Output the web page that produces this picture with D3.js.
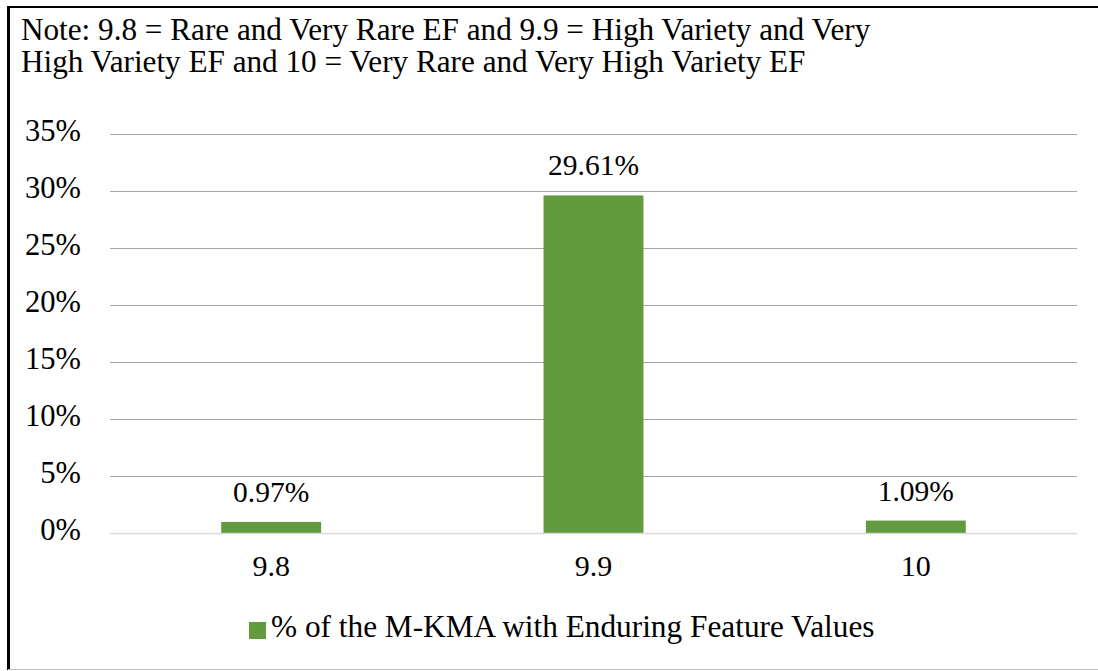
<!DOCTYPE html>
<html>
<head>
<meta charset="utf-8">
<script src="https://cdn.jsdelivr.net/npm/d3@7"></script>
<style>
  body { margin: 0; background: #fff; }
</style>
</head>
<body>
<script>
var categories = ["9.8", "9.9", "10"];
var values = [0.97, 29.61, 1.09];
var yTicks = [0, 5, 10, 15, 20, 25, 30, 35];
var noteLines = [
  "Note: 9.8 = Rare and Very Rare EF and 9.9 = High Variety and Very",
  "High Variety EF and 10 = Very Rare and Very High Variety EF"
];
var seriesName = "% of the M-KMA with Enduring Feature Values";

var W = 1098, H = 671;
var green = "#629b3e";
var font = "'Liberation Serif', Tinos, 'Times New Roman', 'DejaVu Serif', serif";

var svg = d3.select("body").append("svg")
    .attr("width", W)
    .attr("height", H)
    .attr("font-family", font);

// frame
svg.append("line").attr("x1", 8).attr("y1", 7).attr("x2", W).attr("y2", 7)
    .attr("stroke", "#000").attr("stroke-width", 2);
svg.append("line").attr("x1", 8.5).attr("y1", 6).attr("x2", 8.5).attr("y2", 670)
    .attr("stroke", "#000").attr("stroke-width", 3);
svg.append("line").attr("x1", 8).attr("y1", 669.5).attr("x2", W).attr("y2", 669.5)
    .attr("stroke", "#bfbfbf").attr("stroke-width", 1);

// note
svg.append("text").selectAll("tspan")
    .data(noteLines)
    .enter().append("tspan")
    .attr("x", 21)
    .attr("y", function(d, i){ return 40 + i * 32; })
    .attr("font-size", 31.2)
    .text(function(d){ return d; });

var x = d3.scaleBand()
    .domain(categories)
    .range([110, 1077])
    .paddingInner(0.69)
    .paddingOuter(0.345);

var y = d3.scaleLinear()
    .domain([0, 35])
    .range([533, 134]);

// gridlines
svg.selectAll("line.grid")
    .data(yTicks.filter(function(d){ return d > 0; }))
    .enter().append("line")
    .attr("class", "grid")
    .attr("x1", 110).attr("x2", 1077)
    .attr("y1", function(d){ return Math.round(y(d)) + 0.5; })
    .attr("y2", function(d){ return Math.round(y(d)) + 0.5; })
    .attr("stroke", "#a6a6a6")
    .attr("stroke-width", 1);

// y tick labels
svg.selectAll("text.ytick")
    .data(yTicks)
    .enter().append("text")
    .attr("class", "ytick")
    .attr("x", 81)
    .attr("y", function(d){ return y(d); })
    .attr("text-anchor", "end")
    .attr("dominant-baseline", "middle")
    .attr("font-size", 30.5)
    .text(function(d){ return d + "%"; });

// bars
svg.selectAll("rect.bar")
    .data(values)
    .enter().append("rect")
    .attr("class", "bar")
    .attr("x", function(d, i){ return x(categories[i]); })
    .attr("width", x.bandwidth())
    .attr("y", function(d){ return y(d); })
    .attr("height", function(d){ return y(0) - y(d); })
    .attr("fill", green);

// x axis line
svg.append("line")
    .attr("x1", 110).attr("x2", 1077)
    .attr("y1", Math.round(y(0)) + 0.5).attr("y2", Math.round(y(0)) + 0.5)
    .attr("stroke", "#d9d9d9")
    .attr("stroke-width", 1.5);

// data labels
svg.selectAll("text.label")
    .data(values)
    .enter().append("text")
    .attr("class", "label")
    .attr("x", function(d, i){ return x(categories[i]) + x.bandwidth() / 2; })
    .attr("y", function(d){ return y(d) - 20; })
    .attr("text-anchor", "middle")
    .attr("font-size", 29.5)
    .text(function(d){ return d.toFixed(2) + "%"; });

// x labels
svg.selectAll("text.xtick")
    .data(categories)
    .enter().append("text")
    .attr("class", "xtick")
    .attr("x", function(d){ return x(d) + x.bandwidth() / 2; })
    .attr("y", 569)
    .attr("text-anchor", "middle")
    .attr("dominant-baseline", "middle")
    .attr("font-size", 30)
    .text(function(d){ return d; });

// legend
var legend = svg.append("g").attr("transform", "translate(249,630)");
legend.append("rect")
    .attr("x", 0).attr("y", -8)
    .attr("width", 17).attr("height", 17)
    .attr("fill", green);
legend.append("text")
    .attr("x", 22).attr("y", 0)
    .attr("dominant-baseline", "middle")
    .attr("font-size", 31.3)
    .text(seriesName);
</script>
</body>
</html>
